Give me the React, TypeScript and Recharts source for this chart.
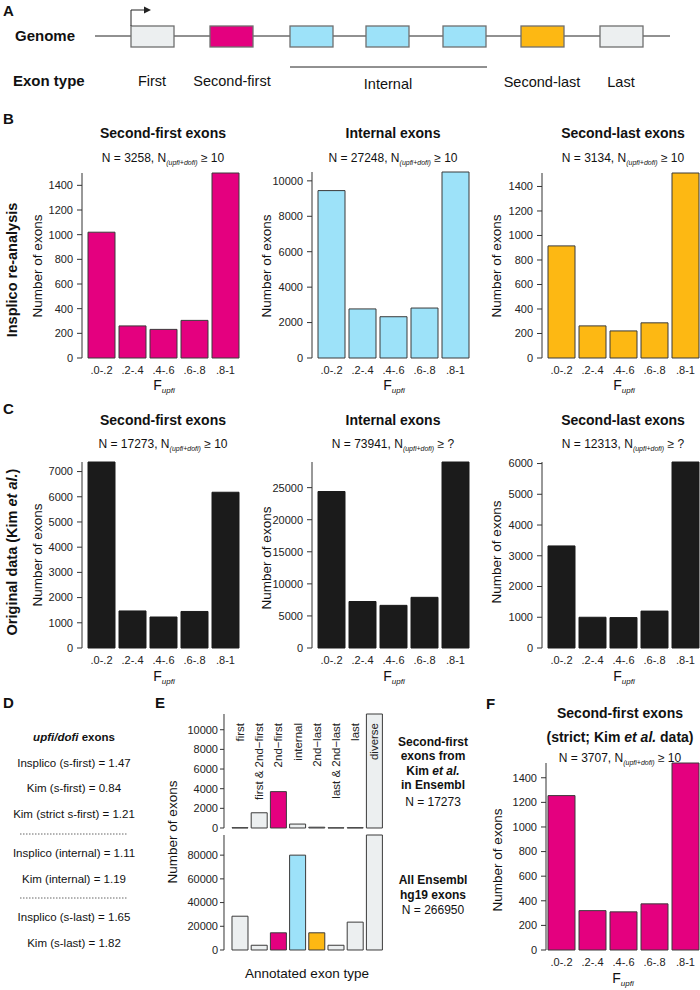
import { Bar, BarChart, Cell, LabelList, XAxis, YAxis } from "recharts";

const FONT = '"Liberation Sans", Arial, Helvetica, sans-serif';
const MAGENTA = "#e4007f";
const BLUE = "#9de2f9";
const ORANGE = "#fdb813";
const GREY = "#eceff0";
const BLACK = "#1b1b1b";
const EDGE = "#3a3a3a";
const Y_W = 50;
const M_TOP = 8;
const M_BOT = 8;

// F_upfi bins
const bins = [".0-.2", ".2-.4", ".4-.6", ".6-.8", ".8-1"];

// B: Insplico re-analysis
const bSecondFirst = [1020, 260, 232, 305, 1500];
const bInternal = [9450, 2770, 2330, 2820, 10500];
const bSecondLast = [915, 262, 221, 287, 1510];

// C: original data (Kim et al.)
const cSecondFirst = [7380, 1470, 1230, 1450, 6180];
const cInternal = [24400, 7250, 6650, 7900, 29000];
const cSecondLast = [3320, 1000, 990, 1200, 6050];

// F: strict second-first
const fStrict = [1255, 320, 310, 375, 1520];

const ticks1400 = [0, 200, 400, 600, 800, 1000, 1200, 1400];
const ticks10000 = [0, 2000, 4000, 6000, 8000, 10000];
const ticks7000 = [0, 1000, 2000, 3000, 4000, 5000, 6000, 7000];
const ticks25000 = [0, 5000, 10000, 15000, 20000, 25000];
const ticks6000 = [0, 1000, 2000, 3000, 4000, 5000, 6000];

// E: annotated exon type
const eTypes = ["first", "first & 2nd\u2212first", "2nd\u2212first", "internal", "2nd\u2212last", "last & 2nd\u2212last", "last", "diverse"];
const eKim = [30, 1550, 3700, 400, 80, 20, 30, 11600];
const eEnsembl = [28500, 4000, 14500, 80000, 14500, 4000, 23500, 97000];
const eKimColors = [GREY, GREY, MAGENTA, GREY, GREY, GREY, GREY, GREY];
const eEnsemblColors = [GREY, GREY, MAGENTA, BLUE, ORANGE, GREY, GREY, GREY];
const eKimTicks = [0, 2000, 4000, 6000, 8000, 10000];
const eEnsemblTicks = [0, 20000, 40000, 60000, 80000];

type HistProps = {
  axisX: number;
  zeroY: number;
  plotH: number;
  values: number[];
  ticks: number[];
  fill: string;
  edge?: string;
  pad?: number;
};

const Hist = ({ axisX, zeroY, plotH, values, ticks, fill, edge = EDGE, pad = 4 }: HistProps) => {
  const data = bins.map((bin, i) => ({ bin, n: values[i] }));
  return (
    <div style={{ position: "absolute", left: axisX - Y_W, top: zeroY - plotH - M_TOP }}>
      <BarChart
        width={Y_W + pad + 5 * 31 + 2}
        height={plotH + M_TOP + 22}
        data={data}
        margin={{ top: M_TOP, right: 2, left: 0, bottom: 0 }}
      >
        <XAxis
          dataKey="bin"
          axisLine={false}
          tickLine={false}
          interval={0}
          height={22}
          padding={{ left: pad, right: 0 }}
          tick={{ fontSize: 11, fill: "#222" }}
        />
        <YAxis
          width={Y_W}
          domain={[0, Math.max(...values)]}
          ticks={ticks}
          interval={0}
          tickSize={5}
          tickMargin={4}
          stroke="#333"
          tick={{ fontSize: 11, fill: "#222" }}
        />
        <Bar dataKey="n" fill={fill} stroke={edge} strokeWidth={1} barSize={27} isAnimationActive={false} />
      </BarChart>
    </div>
  );
};

type TypeProps = {
  zeroY: number;
  plotH: number;
  values: number[];
  colors: string[];
  ticks: number[];
  withLabels?: boolean;
};

const TypeChart = ({ zeroY, plotH, values, colors, ticks, withLabels }: TypeProps) => {
  const data = eTypes.map((type, i) => ({ type, n: values[i] }));
  const axisX = 224;
  return (
    <div style={{ position: "absolute", left: axisX - Y_W, top: zeroY - plotH - M_TOP }}>
      <BarChart
        width={Y_W + 6 + 8 * 19.2 + 2}
        height={plotH + M_TOP + M_BOT}
        data={data}
        margin={{ top: M_TOP, right: 2, left: 0, bottom: M_BOT }}
      >
        <XAxis dataKey="type" hide padding={{ left: 6, right: 0 }} />
        <YAxis
          width={Y_W}
          domain={[0, Math.max(...values)]}
          ticks={ticks}
          interval={0}
          tickSize={4}
          tickMargin={2}
          stroke="#333"
          tick={{ fontSize: 11, fill: "#222" }}
        />
        <Bar dataKey="n" stroke={EDGE} strokeWidth={1} barSize={16} isAnimationActive={false}>
          {data.map((d, i) => (
            <Cell key={d.type} fill={colors[i]} />
          ))}
          {withLabels && (
            <LabelList
              dataKey="type"
              content={(p: any) => {
                const cx = Number(p.x) + Number(p.width) / 2;
                const ty = Number(p.y) + Number(p.height) - plotH + 9;
                return (
                  <text
                    x={cx}
                    y={ty}
                    transform={`rotate(-90 ${cx} ${ty})`}
                    textAnchor="end"
                    dominantBaseline="central"
                    fontSize={11.5}
                    fill="#222"
                  >
                    {p.value}
                  </text>
                );
              }}
            />
          )}
        </Bar>
      </BarChart>
    </div>
  );
};

const NLine = ({ x, y, n, thr }: { x: number; y: number; n: string; thr: string }) => (
  <text x={x} y={y} textAnchor="middle" fontSize={12} fill="#111">
    N = {n}, N
    <tspan fontSize={7} fontStyle="italic" dy={3}>
      (upfi+dofi)
    </tspan>
    <tspan dy={-3}> {"\u2265"} {thr}</tspan>
  </text>
);

const FLabel = ({ x, y }: { x: number; y: number }) => (
  <text x={x} y={y} textAnchor="middle" fontSize={14} fill="#111">
    F
    <tspan fontSize={8} fontStyle="italic" dy={3}>
      upfi
    </tspan>
  </text>
);

const VLabel = ({ x, y, text, bold }: { x: number; y: number; text: React.ReactNode; bold?: boolean }) => (
  <text
    x={x}
    y={y}
    transform={`rotate(-90 ${x} ${y})`}
    textAnchor="middle"
    dominantBaseline="central"
    fontSize={bold ? 14.5 : 13.5}
    fontWeight={bold ? "bold" : "normal"}
    fill="#111"
  >
    {text}
  </text>
);

const Title = ({ x, y, children }: { x: number; y: number; children: React.ReactNode }) => (
  <text x={x} y={y} textAnchor="middle" fontSize={14} fontWeight="bold" fill="#111">
    {children}
  </text>
);

const Letter = ({ x, y, c }: { x: number; y: number; c: string }) => (
  <text x={x} y={y} fontSize={15} fontWeight="bold" fill="#111">
    {c}
  </text>
);

const exonBoxes = [
  { x: 131, fill: GREY },
  { x: 210, fill: MAGENTA },
  { x: 290, fill: BLUE },
  { x: 366, fill: BLUE },
  { x: 443, fill: BLUE },
  { x: 521, fill: ORANGE },
  { x: 600, fill: GREY },
];

const Overlay = () => (
  <svg
    width={700}
    height={990}
    style={{ position: "absolute", left: 0, top: 0, pointerEvents: "none", fontFamily: FONT }}
  >
    {/* A: gene model */}
    <Letter x={3} y={16} c="A" />
    <text x={15} y={41} fontSize={15} fontWeight="bold" fill="#111">Genome</text>
    <line x1={95} x2={670} y1={36} y2={36} stroke="#222" strokeWidth={1} />
    {exonBoxes.map((b) => (
      <rect key={b.x} x={b.x} y={26} width={43} height={21} fill={b.fill} stroke="#6f6f6f" strokeWidth={1.3} />
    ))}
    <path d="M131 26 V10 H145" fill="none" stroke="#222" strokeWidth={1} />
    <polygon points="144,6.5 151,10 144,13.5" fill="#222" />
    <text x={13} y={86} fontSize={15} fontWeight="bold" fill="#111">Exon type</text>
    <line x1={290} x2={487} y1={67} y2={67} stroke="#222" strokeWidth={1} />
    <g fontSize={14.5} fill="#111" textAnchor="middle">
      <text x={152} y={86}>First</text>
      <text x={232} y={86}>Second-first</text>
      <text x={388} y={89}>Internal</text>
      <text x={542} y={87}>Second-last</text>
      <text x={621} y={87}>Last</text>
    </g>

    {/* B */}
    <Letter x={3} y={124} c="B" />
    <VLabel x={12} y={270} text="Insplico re-analysis" bold />
    <Title x={163} y={138}>Second-first exons</Title>
    <Title x={393} y={138}>Internal exons</Title>
    <Title x={623} y={138}>Second-last exons</Title>
    <NLine x={163} y={162} n="3258" thr="10" />
    <NLine x={393} y={162} n="27248" thr="10" />
    <NLine x={623} y={162} n="3134" thr="10" />
    <VLabel x={37} y={266} text="Number of exons" />
    <VLabel x={266} y={266} text="Number of exons" />
    <VLabel x={496} y={266} text="Number of exons" />
    <FLabel x={164} y={390} />
    <FLabel x={394} y={390} />
    <FLabel x={624} y={390} />

    {/* C */}
    <Letter x={3} y={414} c="C" />
    <VLabel
      x={12}
      y={552}
      bold
      text={
        <>
          Original data (Kim <tspan fontStyle="italic">et al.</tspan>)
        </>
      }
    />
    <Title x={163} y={425}>Second-first exons</Title>
    <Title x={393} y={425}>Internal exons</Title>
    <Title x={623} y={425}>Second-last exons</Title>
    <NLine x={163} y={448} n="17273" thr="10" />
    <NLine x={393} y={448} n="73941" thr="?" />
    <NLine x={623} y={448} n="12313" thr="?" />
    <VLabel x={37} y={555} text="Number of exons" />
    <VLabel x={266} y={558} text="Number of exons" />
    <VLabel x={496} y={552} text="Number of exons" />
    <FLabel x={164} y={681} />
    <FLabel x={394} y={681} />
    <FLabel x={624} y={681} />

    {/* D */}
    <Letter x={3} y={708} c="D" />
    <g fontSize={11.5} fill="#111" textAnchor="middle">
      <text x={74} y={741} fontWeight="bold">
        <tspan fontStyle="italic">upfi/dofi</tspan> exons
      </text>
      <text x={74} y={767}>Insplico (s-first) = 1.47</text>
      <text x={74} y={792}>Kim (s-first) = 0.84</text>
      <text x={74} y={818}>Kim (strict s-first) = 1.21</text>
      <text x={74} y={857}>Insplico (internal) = 1.11</text>
      <text x={74} y={883}>Kim (internal) = 1.19</text>
      <text x={74} y={921}>Insplico (s-last) = 1.65</text>
      <text x={74} y={947}>Kim (s-last) = 1.82</text>
    </g>
    <line x1={20} x2={128} y1={834} y2={834} stroke="#666" strokeDasharray="1.5 1.5" />
    <line x1={20} x2={128} y1={898} y2={898} stroke="#666" strokeDasharray="1.5 1.5" />

    {/* E */}
    <Letter x={155} y={708} c="E" />
    <VLabel x={172} y={832} text="Number of exons" />
    <text x={307} y={978} textAnchor="middle" fontSize={13.5} fill="#111">Annotated exon type</text>
    <g fontSize={12} fontWeight="bold" fill="#111" textAnchor="middle">
      <text x={433} y={746}>Second-first</text>
      <text x={433} y={760}>exons from</text>
      <text x={433} y={775}>
        Kim <tspan fontStyle="italic">et al.</tspan>
      </text>
      <text x={433} y={789}>in Ensembl</text>
      <text x={433} y={884}>All Ensembl</text>
      <text x={433} y={899}>hg19 exons</text>
    </g>
    <g fontSize={12} fill="#111" textAnchor="middle">
      <text x={433} y={806}>N = 17273</text>
      <text x={433} y={914}>N = 266950</text>
    </g>

    {/* F */}
    <Letter x={486} y={709} c="F" />
    <Title x={620} y={718}>Second-first exons</Title>
    <Title x={620} y={742}>
      (strict; Kim <tspan fontStyle="italic">et al.</tspan> data)
    </Title>
    <NLine x={620} y={762} n="3707" thr="10" />
    <VLabel x={497} y={860} text="Number of exons" />
    <FLabel x={623} y={983} />
  </svg>
);

export default function App() {
  return (
    <div
      style={{
        position: "absolute",
        left: 0,
        top: 0,
        width: 700,
        height: 990,
        background: "#fff",
        fontFamily: FONT,
        overflow: "hidden",
      }}
    >
      <Hist axisX={82} zeroY={358} plotH={185} values={bSecondFirst} ticks={ticks1400} fill={MAGENTA} />
      <Hist axisX={312} zeroY={358} plotH={186} values={bInternal} ticks={ticks10000} fill={BLUE} />
      <Hist axisX={542} zeroY={358} plotH={185} values={bSecondLast} ticks={ticks1400} fill={ORANGE} />

      <Hist axisX={82} zeroY={648} plotH={186} values={cSecondFirst} ticks={ticks7000} fill={BLACK} edge={BLACK} />
      <Hist axisX={312} zeroY={648} plotH={186} values={cInternal} ticks={ticks25000} fill={BLACK} edge={BLACK} />
      <Hist axisX={542} zeroY={648} plotH={186} values={cSecondLast} ticks={ticks6000} fill={BLACK} edge={BLACK} />

      <TypeChart zeroY={828} plotH={114} values={eKim} colors={eKimColors} ticks={eKimTicks} withLabels />
      <TypeChart zeroY={950} plotH={115} values={eEnsembl} colors={eEnsemblColors} ticks={eEnsemblTicks} />

      <Hist axisX={546} zeroY={950} plotH={187} values={fStrict} ticks={ticks1400} fill={MAGENTA} pad={0} />

      <Overlay />
    </div>
  );
}
